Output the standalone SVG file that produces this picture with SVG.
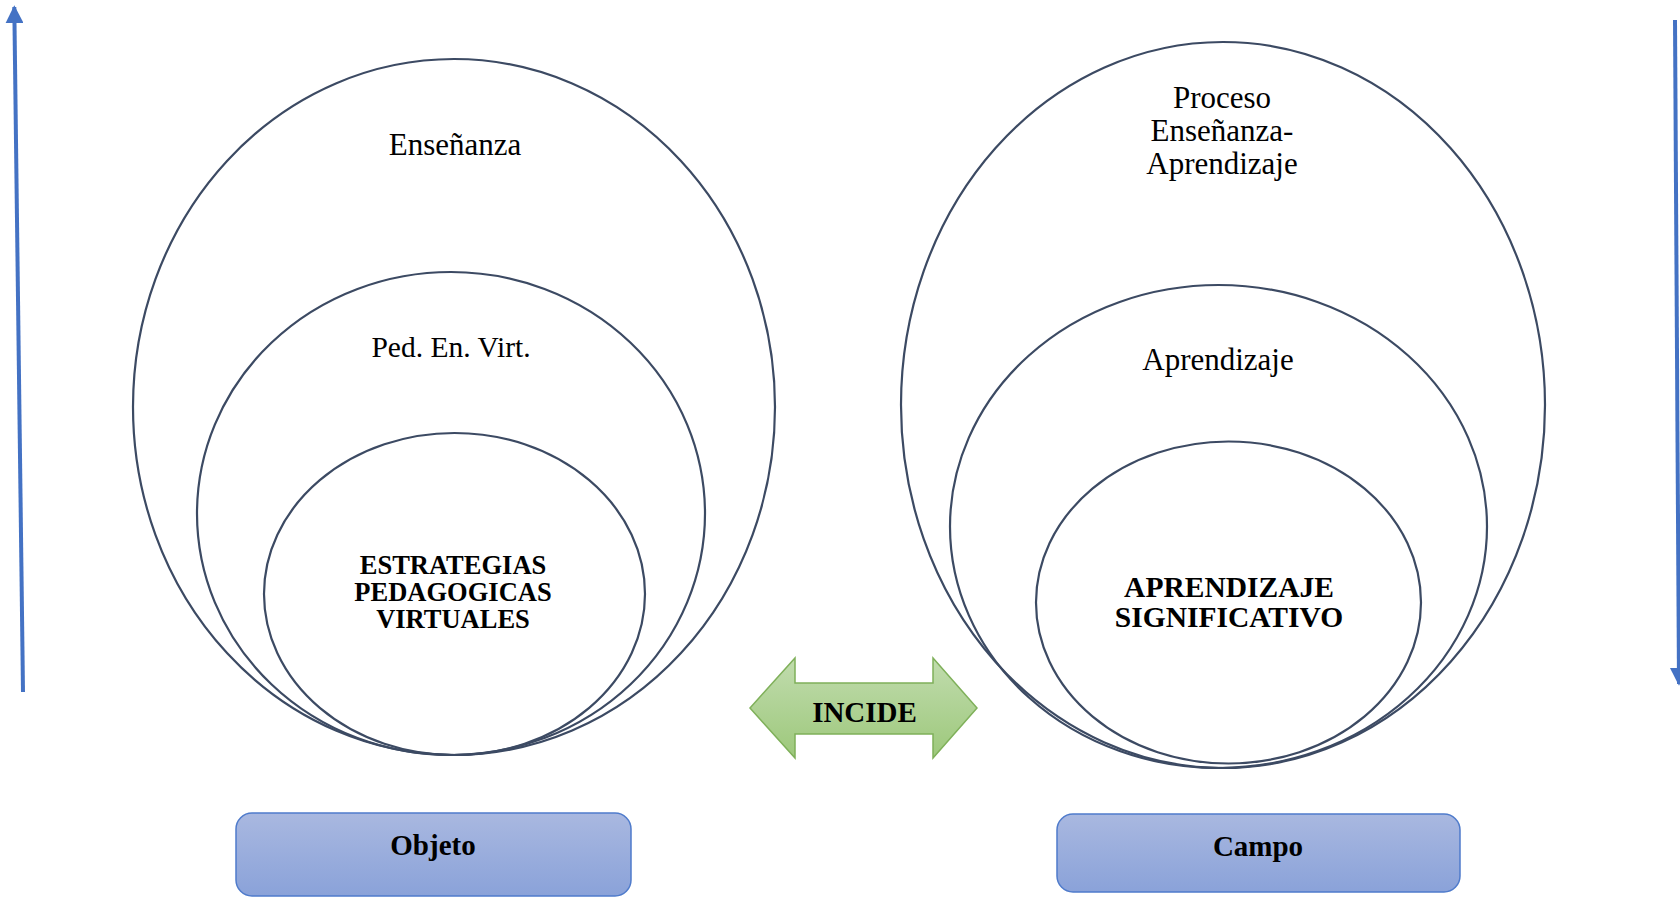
<svg xmlns="http://www.w3.org/2000/svg" width="1680" height="897" viewBox="0 0 1680 897">
<defs>
<style>
.c{fill:none;stroke:#3c4a63;stroke-width:2.2}
.t{font-family:"Liberation Serif","Times New Roman",serif;fill:#000;text-anchor:middle}
.b{font-weight:bold}
.box{stroke:#4f7bcb;stroke-width:1.5;fill:url(#bg)}
.ax{stroke:#4472c4;stroke-width:4;fill:none}
</style>
<linearGradient id="bg" x1="0" y1="0" x2="0" y2="1">
<stop offset="0" stop-color="#a9b8e0"/>
<stop offset="1" stop-color="#8aa2d9"/>
</linearGradient>
<linearGradient id="gg" x1="0" y1="0" x2="0" y2="1">
<stop offset="0" stop-color="#c1dcae"/>
<stop offset="1" stop-color="#9dc87b"/>
</linearGradient>
<marker id="ah" viewBox="0 0 10 10" refX="9" refY="5" markerWidth="4.5" markerHeight="4.5" orient="auto">
<path d="M0,0 L10,5 L0,10 z" fill="#4472c4"/>
</marker>
</defs>
<rect width="1680" height="897" fill="#fff"/>
<g id="connectors">
<line class="ax" x1="23" y1="692" x2="14.3" y2="7" marker-end="url(#ah)"/>
<line class="ax" x1="1675" y1="20" x2="1679" y2="684" marker-end="url(#ah)"/>
</g>
<g id="left-outer">
<ellipse class="c" cx="454" cy="407" rx="321" ry="348"/>
<text class="t" x="455" y="155" font-size="31">Enseñanza</text>
</g>
<g id="left-middle">
<ellipse class="c" cx="451" cy="513.5" rx="254" ry="241.5"/>
<text class="t" x="451" y="357" font-size="29.5">Ped. En. Virt.</text>
</g>
<g id="left-inner">
<ellipse class="c" cx="454.5" cy="594" rx="190.5" ry="161"/>
<text class="t b" x="453" y="574" font-size="26.5">ESTRATEGIAS</text>
<text class="t b" x="453" y="601" font-size="26.5">PEDAGOGICAS</text>
<text class="t b" x="453" y="628" font-size="26.5">VIRTUALES</text>
</g>
<g id="right-outer">
<ellipse class="c" cx="1223" cy="405" rx="322" ry="363"/>
<text class="t" x="1222" y="108" font-size="31">Proceso</text>
<text class="t" x="1222" y="141" font-size="31">Enseñanza-</text>
<text class="t" x="1222" y="174" font-size="31">Aprendizaje</text>
</g>
<g id="right-middle">
<ellipse class="c" cx="1218.5" cy="526.5" rx="268.5" ry="241.5"/>
<text class="t" x="1218" y="370" font-size="31">Aprendizaje</text>
</g>
<g id="right-inner">
<ellipse class="c" cx="1228.5" cy="602.5" rx="192.5" ry="161"/>
<text class="t b" x="1229" y="597" font-size="29.5">APRENDIZAJE</text>
<text class="t b" x="1229" y="627" font-size="29.5">SIGNIFICATIVO</text>
</g>
<g id="incide">
<path d="M750,708 L795,658 L795,683 L933,683 L933,658 L977,708 L933,758 L933,734 L795,734 L795,758 Z" fill="url(#gg)" stroke="#7fb05a" stroke-width="1.5"/>
<text class="t b" x="864.5" y="722" font-size="29">INCIDE</text>
</g>
<g id="objeto">
<rect class="box" x="236" y="813" width="395" height="83" rx="16"/>
<text class="t b" x="433" y="855" font-size="29">Objeto</text>
</g>
<g id="campo">
<rect class="box" x="1057" y="814" width="403" height="78" rx="16"/>
<text class="t b" x="1258" y="856" font-size="29">Campo</text>
</g>
</svg>
